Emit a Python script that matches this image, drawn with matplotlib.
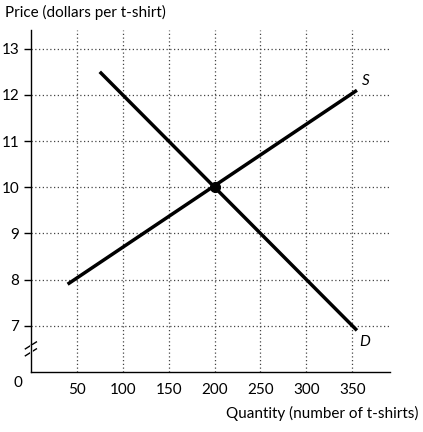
import matplotlib
matplotlib.use("Agg")
import matplotlib.pyplot as plt

plt.rcParams['font.family'] = ['Lato', 'DejaVu Sans']

supply_q = [40, 355]
supply_p = [7.9, 12.1]
demand_q = [75, 355]
demand_p = [12.5, 6.9]
eq_q, eq_p = 200, 10
xticks = [50, 100, 150, 200, 250, 300, 350]
yticks = [7, 8, 9, 10, 11, 12, 13]
ylabels = ['7', '8', '9', '10', '11', '12', '13']

fig = plt.figure(figsize=(4.23, 4.32), dpi=100)
ax = fig.add_axes([0.073, 0.139, 0.849, 0.791])
ax.set_xlim(0, 391)
ax.set_ylim(6, 13.4)
for s in ['top', 'right']:
    ax.spines[s].set_visible(False)
for s in ['left', 'bottom']:
    ax.spines[s].set_linewidth(1.0)
ax.set_xticks(xticks)
ax.set_yticks(yticks)
ax.set_yticklabels(ylabels)
ax.tick_params(labelsize=11, length=5, width=1, direction='out')
ax.tick_params(axis='x', length=0, pad=8)
ax.grid(True, linestyle=(0, (1, 2)), color='#444444', linewidth=0.9)
ax.set_axisbelow(True)

ax.plot(supply_q, supply_p, color='black', lw=2.5, solid_capstyle='butt')
ax.plot(demand_q, demand_p, color='black', lw=2.5, solid_capstyle='butt')
ax.plot([eq_q], [eq_p], 'o', color='black', ms=7)
ax.text(360, 12.15, 'S', fontsize=11, style='italic', ha='left', va='bottom')
ax.text(358, 6.8, 'D', fontsize=11, style='italic', ha='left', va='top')

# axis break
ax.plot([-6, 6], [6.35, 6.5], color='black', lw=1, clip_on=False)
ax.plot([-6, 6], [6.5, 6.65], color='black', lw=1, clip_on=False)
ax.plot([0, 0], [6.43, 6.57], color='white', lw=2, clip_on=False)

fig.text(18 / 423, 1 - 383 / 432, '0', fontsize=11, ha='center', va='center')
fig.text(5 / 423, 1 - 12 / 432, 'Price (dollars per t-shirt)', fontsize=11, ha='left', va='center')
fig.text(418 / 423, 1 - 413 / 432, 'Quantity (number of t-shirts)', fontsize=11, ha='right', va='center')

fig.savefig('out.png', dpi=100)
